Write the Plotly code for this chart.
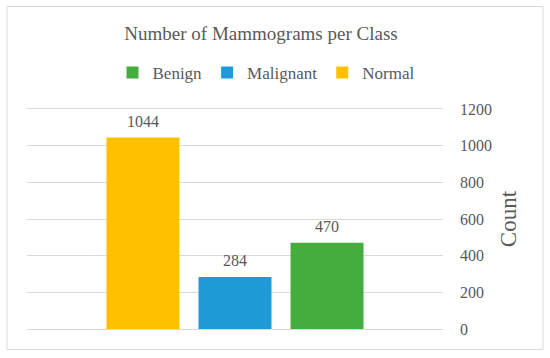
import plotly.graph_objects as go

# ---- data ----
classes = ["Normal", "Malignant", "Benign"]
counts = [1044, 284, 470]
colors = ["#FFC000", "#1E9BD7", "#44AD3E"]
y_ticks = [0, 200, 400, 600, 800, 1000, 1200]

W, H = 550, 358
# plot area in pixels
PL, PR, PT, PB = 27, 443, 109, 329
FONT = "Liberation Serif"
TXT = "#595959"
GRID = "#D9D9D9"

def px_x(p):
    return (p - PL) / (PR - PL)

def px_y(p):
    return (PB - p) / (PB - PT)

fig = go.Figure()
for c, v, col in zip(classes, counts, colors):
    fig.add_trace(go.Bar(x=[c], y=[v], name=c, marker=dict(color=col, line=dict(width=0)),
                         width=0.793, hoverinfo="x+y"))
    fig.add_annotation(x=c, y=v, text=str(v), showarrow=False, yanchor="bottom", yshift=6,
                       font=dict(family=FONT, size=16, color=TXT))

fig.update_layout(
    width=W, height=H,
    margin=dict(l=PL, r=W - PR, t=PT, b=H - PB, autoexpand=False),
    paper_bgcolor="white", plot_bgcolor="white",
    barmode="overlay",
    title=dict(text="Number of Mammograms per Class", x=261 / W, xanchor="center",
               y=1 - 33 / H, yanchor="middle",
               font=dict(family=FONT, size=19, color=TXT)),
    legend=dict(orientation="h", traceorder="reversed", xref="container", yref="container",
                x=266 / W, xanchor="center", y=1 - 73 / H, yanchor="middle",
                font=dict(family=FONT, size=17, color=TXT),
                itemwidth=30, bgcolor="rgba(0,0,0,0)"),
    xaxis=dict(type="category", categoryorder="array", categoryarray=classes,
               range=[-1.26, 3.26], showticklabels=False, showgrid=False, zeroline=False,
               showline=True, mirror=True, linecolor=GRID, linewidth=1, ticks=""),
    yaxis=dict(side="right", range=[0, 1200], tickvals=y_ticks, showgrid=True,
               gridcolor=GRID, gridwidth=1, zeroline=False, showline=False,
               ticklabelstandoff=16, automargin=False,
               tickfont=dict(family=FONT, size=16, color=TXT),
               title=dict(text="Count", font=dict(family=FONT, size=23, color=TXT), standoff=8)),
    shapes=[dict(type="rect", xref="paper", yref="paper",
                 x0=px_x(7), x1=px_x(543), y0=px_y(349.5), y1=px_y(6.5),
                 line=dict(color=GRID, width=1), fillcolor="rgba(0,0,0,0)", layer="below")],
    showlegend=True,
)

fig.write_html("out.html", config={"displayModeBar": False},
               post_script="document.body.style.margin='0';")
